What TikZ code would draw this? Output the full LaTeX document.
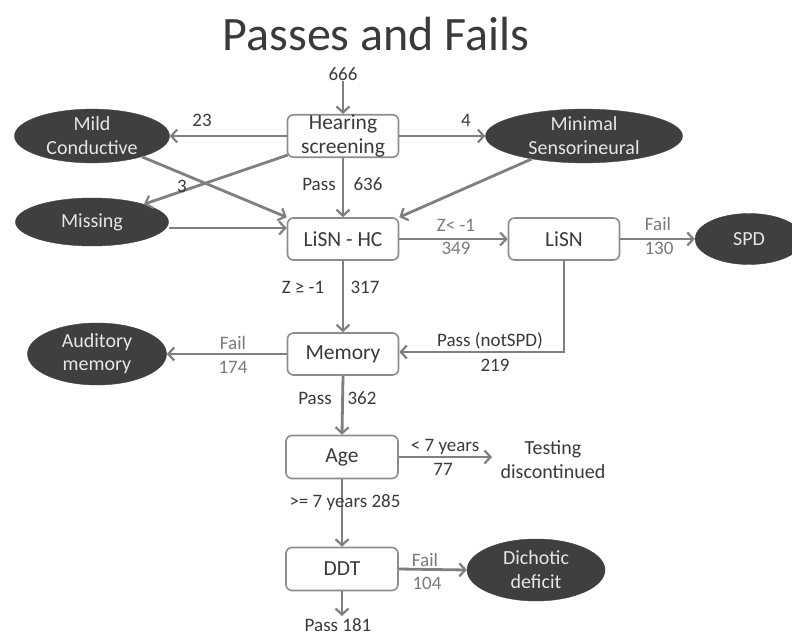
\documentclass[tikz,border=0pt]{standalone}
\usepackage{fontspec}
\setmainfont{Carlito}
\usetikzlibrary{arrows.meta,calc,shapes.geometric}
\definecolor{arrowgray}{HTML}{7F7F7F}
\definecolor{boxline}{HTML}{8C8C8C}
\definecolor{ellfill}{HTML}{3F3F3F}
\definecolor{ellText}{HTML}{E6E6E6}
\definecolor{darkText}{HTML}{3A3A3A}
\definecolor{grayText}{HTML}{7A7A7A}
\begin{document}
\begin{tikzpicture}[x=1pt,y=-1pt,
  stepbox/.style={draw=boxline,line width=1.6pt,rounded corners=6pt,fill=white,
    minimum width=111pt,minimum height=42pt,inner sep=0pt,text=darkText,
    font=\fontsize{21.5}{24}\selectfont,align=center},
  outcome/.style={ellipse,fill=ellfill,draw=ellfill,inner sep=0pt,text=ellText,
    font=\fontsize{20}{24}\selectfont,align=center},
  flow/.style={draw=arrowgray,line width=2.8pt,-{Straight Barb[length=6pt,width=13pt,line width=2.2pt]}},
  lbl/.style={text=darkText,font=\fontsize{19}{22}\selectfont,inner sep=0pt},
  glbl/.style={text=grayText,font=\fontsize{19}{22}\selectfont,inner sep=0pt}]
\useasboundingbox[fill=white] (0,0) rectangle (792,636);

\node[text=darkText,font=\fontsize{48}{52}\selectfont,anchor=base,inner sep=0pt] (title) at (376,51) {Passes and Fails};

\node[lbl] (n666) at (343,74) {666};
\node[stepbox] (hs) at (343,136) {Hearing\\screening};
\node[outcome,minimum width=155pt,minimum height=48pt] (mild) at (92,136) {Mild\\Conductive};
\node[outcome,minimum width=197pt,minimum height=48pt] (minimal) at (584,136) {Minimal\\Sensorineural};
\node[outcome,minimum width=153pt,minimum height=48pt] (missing) at (92,222) {Missing};
\node[stepbox] (lhc) at (343,239) {LiSN - HC};
\node[stepbox] (lisn) at (564,239) {LiSN};
\node[outcome,minimum width=108pt,minimum height=51pt] (spd) at (749,239) {SPD};
\node[stepbox] (mem) at (343,354) {Memory};
\node[outcome,minimum width=139pt,minimum height=62pt,font=\fontsize{20}{23}\selectfont] (aud) at (97,354) {Auditory\\memory};
\node[stepbox,minimum width=112pt,minimum height=43pt] (age) at (342,457) {Age};
\node[text=darkText,font=\fontsize{20}{24}\selectfont,align=center,inner sep=0pt] (test) at (553,460) {Testing\\discontinued};
\node[stepbox,minimum width=112pt,minimum height=43pt] (ddt) at (342,569) {DDT};
\node[outcome,minimum width=138pt,minimum height=62pt] (dich) at (536,570) {Dichotic\\deficit};

\coordinate (ageend) at (492,457);
\coordinate (ddtend) at (342,616);
\coordinate (hsout) at ($(hs.south west)+(1,-3)$);
\coordinate (misin) at ($(lhc.west)+(0,-11)$);

\draw[flow] (n666.south) -- (hs.north);
\draw[flow] (hs.west) -- (mild.east);
\draw[flow] (hs.east) -- (minimal.west);
\draw[flow] (hsout) -- (missing);
\draw[flow] (mild) -- (lhc.north west);
\draw[flow] (missing.east |- misin) -- (misin);
\draw[flow] (minimal) -- (lhc.north east);
\draw[flow] (hs.south) -- (lhc.north);
\draw[flow] (lhc.east) -- (lisn.west);
\draw[flow] (lisn.east) -- (spd.west);
\draw[flow] (lisn.south) |- ($(mem.east)+(0,-2)$);
\draw[flow] (lhc.south) -- (mem.north);
\draw[flow] (mem.west) -- (aud.east);
\draw[flow] (mem.south) -- (age.north);
\draw[flow] (age.east) -- (ageend);
\draw[flow] (age.south) -- (ddt.north);
\draw[flow] (ddt.east) -- (dich.west);
\draw[flow] (ddt.south) -- (ddtend);

\node[lbl] (l23) at (202,120) {23};
\node[lbl] (l4) at (466,120) {4};
\node[lbl] (l3) at (182,186) {3};
\node[lbl] (lpass1) at (319,184) {Pass};
\node[lbl] (l636) at (368,184) {636};
\node[glbl] (lz1) at (456,225) {Z< -1};
\node[glbl] (l349) at (456,248) {349};
\node[glbl] (lfail1) at (658,224) {Fail};
\node[glbl] (l130) at (659,248) {130};
\node[lbl] (lz2) at (303,287) {Z ≥ -1};
\node[lbl] (l317) at (365,287) {317};
\node[glbl] (lfail2) at (233,343) {Fail};
\node[glbl] (l174) at (233,367) {174};
\node[lbl] (lpns) at (490,341) {Pass (notSPD)};
\node[lbl] (l219) at (495,365) {219};
\node[lbl] (lpass2) at (315,398) {Pass};
\node[lbl] (l362) at (362,398) {362};
\node[lbl] (llt7) at (445,447) {< 7 years};
\node[lbl] (l77) at (443,469) {77};
\node[lbl] (lge7) at (345,503) {>= 7 years 285};
\node[glbl] (lfail3) at (425,560) {Fail};
\node[glbl] (l104) at (427,583) {104};
\node[lbl] (lpass181) at (338,625) {Pass 181};
\end{tikzpicture}
\end{document}
